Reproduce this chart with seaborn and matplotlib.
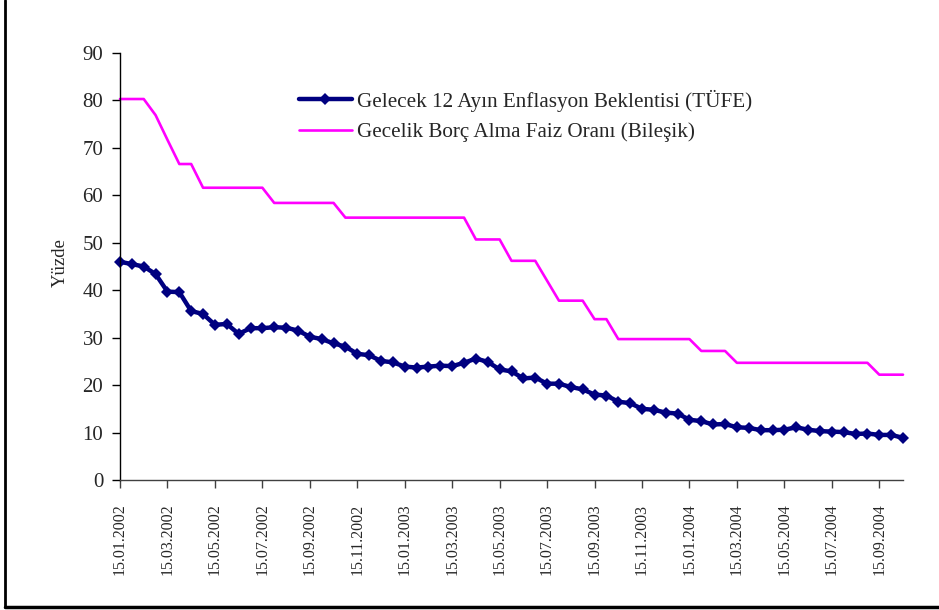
import numpy as np
import pandas as pd
import matplotlib
matplotlib.use("Agg")
import matplotlib.pyplot as plt
import seaborn as sns
from matplotlib.lines import Line2D

# semi-monthly observations, 15.01.2002 - 15.10.2004
expectation = [46.0, 45.5, 45.0, 43.4, 39.7, 39.6, 35.6, 35.0, 32.7, 32.9,
               30.8, 32.0, 32.0, 32.2, 32.1, 31.5, 30.2, 29.7, 28.8, 28.1,
               26.6, 26.3, 25.1, 24.8, 23.9, 23.7, 23.9, 24.1, 24.0, 24.7,
               25.6, 24.9, 23.3, 22.9, 21.4, 21.6, 20.3, 20.3, 19.6, 19.1,
               18.0, 17.8, 16.5, 16.2, 15.0, 14.8, 14.2, 14.0, 12.7, 12.4,
               11.7, 11.8, 11.1, 11.0, 10.5, 10.5, 10.6, 11.1, 10.6, 10.3,
               10.2, 10.1, 9.7, 9.8, 9.5, 9.5, 8.9]

overnight = [80.3, 80.3, 80.3, 76.9, 71.7, 66.6, 66.6, 61.6, 61.6, 61.6,
             61.6, 61.6, 61.6, 58.4, 58.4, 58.4, 58.4, 58.4, 58.4, 55.3,
             55.3, 55.3, 55.3, 55.3, 55.3, 55.3, 55.3, 55.3, 55.3, 55.3,
             50.7, 50.7, 50.7, 46.2, 46.2, 46.2, 42.0, 37.8, 37.8, 37.8,
             33.9, 33.9, 29.7, 29.7, 29.7, 29.7, 29.7, 29.7, 29.7, 27.2,
             27.2, 27.2, 24.7, 24.7, 24.7, 24.7, 24.7, 24.7, 24.7, 24.7,
             24.7, 24.7, 24.7, 24.7, 22.2, 22.2, 22.2]

tick_labels = ["15.01.2002", "15.03.2002", "15.05.2002", "15.07.2002",
               "15.09.2002", "15.11.2002", "15.01.2003", "15.03.2003",
               "15.05.2003", "15.07.2003", "15.09.2003", "15.11.2003",
               "15.01.2004", "15.03.2004", "15.05.2004", "15.07.2004",
               "15.09.2004"]

label_exp = "Gelecek 12 Ayın Enflasyon Beklentisi (TÜFE)"
label_on = "Gecelik Borç Alma Faiz Oranı (Bileşik)"

period = np.arange(len(expectation))
df = pd.DataFrame({"period": period, "exp": expectation, "on": overnight})

sns.set_style("white")
plt.rcParams["font.family"] = ["Liberation Serif", "DejaVu Serif"]

fig = plt.figure(figsize=(9.39, 6.10), dpi=100)
ax = fig.add_axes([120 / 939, 130 / 610, 783 / 939, 427 / 610])

sns.lineplot(data=df, x="period", y="exp", ax=ax, color="#000080",
             linewidth=3.2, marker="D", markersize=6.5, markeredgewidth=0,
             label=label_exp)
sns.lineplot(data=df, x="period", y="on", ax=ax, color="#FF00FF",
             linewidth=1.9, label=label_on)
for ln in ax.lines:
    ln.set_clip_on(False)

ax.set_xlim(0, len(expectation) - 1)
ax.set_ylim(0, 90)
ax.set_yticks(range(0, 91, 10))
ax.set_xticks(period[::4])
ax.set_xticklabels(tick_labels, rotation=90, fontsize=11.5)
ax.tick_params(axis="y", labelsize=15, direction="out", length=6, width=1,
               color="black", pad=6, left=True)
ax.tick_params(axis="x", direction="out", length=6, width=1,
               color="#404040", pad=11, bottom=True)

ax.set_xlabel("")
ax.set_ylabel("Yüzde", fontsize=13.5)
ax.yaxis.set_label_coords(-0.0651, 0.51)

sns.despine(ax=ax)
ax.spines["left"].set_color("black")
ax.spines["left"].set_linewidth(1)
ax.spines["bottom"].set_color("#404040")
ax.spines["bottom"].set_linewidth(1)

ax.legend(loc="upper left", bbox_to_anchor=(0.228, 0.914), frameon=False,
          fontsize=15.2, handlelength=2.55, handletextpad=0.2,
          labelspacing=0.5, borderpad=0, borderaxespad=0)

# outer frame (left and bottom only)
fig.add_artist(Line2D([5 / 939, 5 / 939], [3 / 610, 1], transform=fig.transFigure,
                      color="black", linewidth=2))
fig.add_artist(Line2D([5 / 939, 1], [3 / 610, 3 / 610], transform=fig.transFigure,
                      color="black", linewidth=2.5))

fig.savefig("out.png", dpi=100)
